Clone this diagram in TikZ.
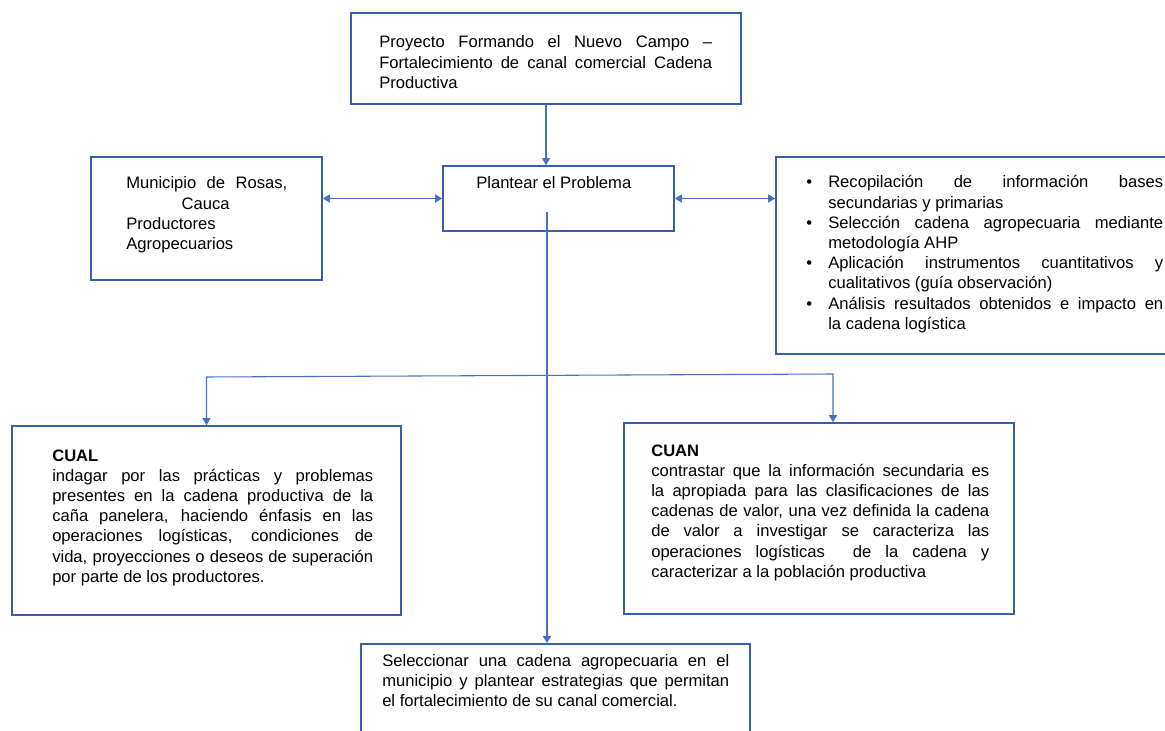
\documentclass[tikz,border=0pt]{standalone}
\usepackage{fontspec}
\setmainfont{Liberation Sans}
\usetikzlibrary{arrows.meta}

\definecolor{boxblue}{HTML}{3A5FAA}
\definecolor{lineblue}{HTML}{4472C4}

% one justified line, and a top-aligned block of lines
\newcommand\jl[1]{\hbox to\hsize{#1}}
\newcommand\textblock[2]{\vtop{\hsize=#1\relax #2}}
\newcommand\bul{\llap{•\hskip 12pt}}

\begin{document}
\begin{tikzpicture}[
  x=0.75pt, y=-0.75pt,
  box/.style={draw=boxblue, line width=1.2pt, rectangle, inner sep=0pt, fill=none},
  txt/.style={inner sep=0pt, anchor=base west, text=black,
    font=\fontsize{12.45}{15.15}\selectfont},
  conn/.style={draw=lineblue, line width=0.8pt},
  tip/.style={-{Triangle[length=5.25pt,width=6pt]}},
  bothtips/.style={{Triangle[length=5.25pt,width=6pt]}-{Triangle[length=5.25pt,width=6pt]}}
]
\useasboundingbox (0,0) rectangle (1165,731);
\clip (0,0) rectangle (1165,731);
\fill[white] (0,0) rectangle (1165,731);

% boxes
\node[box, minimum width=292.5pt, minimum height=68.25pt]  (proyecto)  at (546,58.5) {};
\node[box, minimum width=173.25pt, minimum height=48.75pt] (problema)  at (558.5,198.5) {};
\node[box, minimum width=173.25pt, minimum height=92.25pt] (municipio) at (206.5,218.5) {};
\node[box, minimum width=299.25pt, minimum height=147.75pt] (metodo)   at (975.5,255.5) {};
\node[box, minimum width=291.75pt, minimum height=141.75pt] (cual)     at (206.5,520.5) {};
\node[box, minimum width=292.5pt, minimum height=143.25pt] (cuan)      at (819,518.5) {};
\node[box, minimum width=291.75pt, minimum height=79.5pt]  (objetivo)  at (555.5,697) {};

% texts
\node[txt] (proyectoT) at (379,48) {\textblock{249.75pt}{%
  \jl{Proyecto Formando el Nuevo Campo –}%
  \jl{Fortalecimiento de canal comercial Cadena}%
  \hbox{Productiva}}};

\node[txt] (problemaT) at (476,189) {Plantear el Problema};

\node[txt] (municipioT) at (126,189) {\textblock{120.75pt}{%
  \jl{Municipio de Rosas,}%
  \hbox{\hskip 41.5pt Cauca}%
  \hbox{Productores}%
  \hbox{Agropecuarios}}};

\node[txt] (metodoT) at (828,188) {\textblock{251.25pt}{%
  \jl{\bul Recopilación de información bases}%
  \hbox{secundarias y primarias}%
  \jl{\bul Selección cadena agropecuaria mediante}%
  \hbox{metodología AHP}%
  \jl{\bul Aplicación instrumentos cuantitativos y}%
  \hbox{cualitativos (guía observación)}%
  \jl{\bul Análisis resultados obtenidos e impacto en}%
  \hbox{la cadena logística}}};

\node[txt] (cualT) at (52,461) {\textblock{240.75pt}{%
  \hbox{\bfseries CUAL}%
  \jl{indagar por las prácticas y problemas}%
  \jl{presentes en la cadena productiva de la}%
  \jl{caña panelera, haciendo énfasis en las}%
  \jl{operaciones logísticas, condiciones de}%
  \jl{vida, proyecciones o deseos de superación}%
  \hbox{por parte de los productores.}}};

\node[txt] (cuanT) at (651,456) {\textblock{253.5pt}{%
  \hbox{\bfseries CUAN}%
  \jl{contrastar que la información secundaria es}%
  \jl{la apropiada para las clasificaciones de las}%
  \jl{cadenas de valor, una vez definida la cadena}%
  \jl{de valor a investigar se caracteriza las}%
  \jl{operaciones logísticas\ \ de la cadena y}%
  \hbox{caracterizar a la población productiva}}};

\node[txt] (objetivoT) at (382,666) {\textblock{260.25pt}{%
  \jl{Seleccionar una cadena agropecuaria en el}%
  \jl{municipio y plantear estrategias que permitan}%
  \hbox{el fortalecimiento de su canal comercial.}}};

% connectors
\coordinate (stem) at (547,212);
\coordinate (brL) at (206.5,377);
\coordinate (brR) at (833,374);

\draw[conn, tip] (proyecto.south) -- (proyecto.south |- problema.north);
\draw[conn, bothtips] (municipio.east |- problema.west) -- (problema.west);
\draw[conn, bothtips] (problema.east) -- (problema.east -| metodo.west);
\draw[conn, tip] (stem) -- (stem |- objetivo.north);
\draw[conn, bothtips] (cual.north) -- (brL) -- (brR) -- (brR |- cuan.north);
\end{tikzpicture}
\end{document}
